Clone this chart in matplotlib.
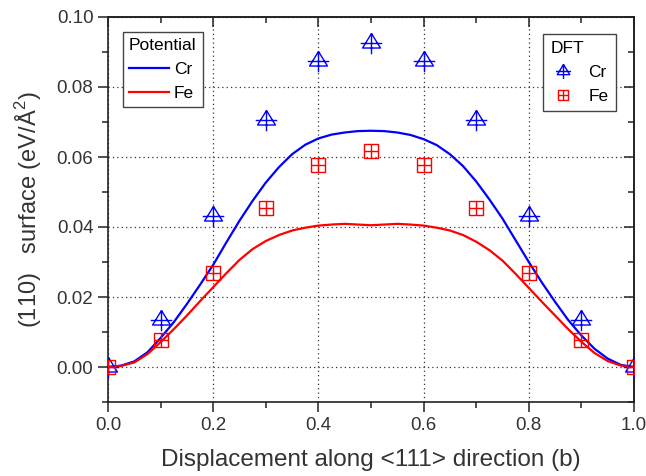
import numpy as np
import matplotlib
matplotlib.use("Agg")
import matplotlib.pyplot as plt
from matplotlib.path import Path
from matplotlib.ticker import MultipleLocator

plt.rcParams["font.family"] = ["Liberation Sans", "DejaVu Sans"]
plt.rcParams["mathtext.fontset"] = "custom"
plt.rcParams["mathtext.rm"] = "Liberation Sans"

# DFT points
dft_x = [0.0, 0.1, 0.2, 0.3, 0.4, 0.5, 0.6, 0.7, 0.8, 0.9, 1.0]
dft_cr = [0.0, 0.0134, 0.0431, 0.0707, 0.0875, 0.0925, 0.0875, 0.0707, 0.0431, 0.0134, 0.0]
dft_fe = [0.0, 0.0078, 0.0270, 0.0455, 0.0577, 0.0617, 0.0577, 0.0455, 0.0270, 0.0078, 0.0]

pot_x = [0.0, 0.025, 0.05, 0.075, 0.1, 0.125, 0.15, 0.175, 0.2, 0.225, 0.25,
         0.275, 0.3, 0.325, 0.35, 0.375, 0.4, 0.425, 0.45, 0.475, 0.5,
         0.525, 0.55, 0.575, 0.6, 0.625, 0.65, 0.675, 0.7, 0.725, 0.75,
         0.775, 0.8, 0.825, 0.85, 0.875, 0.9, 0.925, 0.95, 0.975, 1.0]
pot_cr = [0.0, 0.0004, 0.0016, 0.0042, 0.0083, 0.0128, 0.0180, 0.0235, 0.0292, 0.0356, 0.0418,
          0.0475, 0.0527, 0.0571, 0.0608, 0.0635, 0.0653, 0.0664, 0.0670, 0.0674, 0.0675,
          0.0674, 0.0670, 0.0663, 0.0651, 0.0634, 0.0608, 0.0574, 0.0530, 0.0479, 0.0424,
          0.0362, 0.0300, 0.0241, 0.0186, 0.0134, 0.0090, 0.0052, 0.0024, 0.0006, 0.0]
pot_fe = [0.0, 0.0003, 0.0013, 0.0037, 0.0071, 0.0108, 0.0147, 0.0188, 0.0228, 0.0268, 0.0306,
          0.0337, 0.0360, 0.0377, 0.0390, 0.0398, 0.0404, 0.0407, 0.0409, 0.0407, 0.0405,
          0.0407, 0.0409, 0.0407, 0.0404, 0.0398, 0.0390, 0.0377, 0.0358, 0.0334, 0.0304,
          0.0266, 0.0226, 0.0186, 0.0147, 0.0108, 0.0072, 0.0040, 0.0017, 0.0004, 0.0]

x_ticks = [0.0, 0.2, 0.4, 0.6, 0.8, 1.0]
y_ticks = [0.0, 0.02, 0.04, 0.06, 0.08, 0.10]

# custom markers: triangle with cross, square with plus
M, L = Path.MOVETO, Path.LINETO
tri_cross = Path(
    [(0, 0.93), (-0.83, -0.42), (0.83, -0.42), (0, 0.93),
     (-1, 0), (1, 0), (0, 0.93), (0, -1)],
    [M, L, L, L, M, L, M, L])
sq_plus = Path(
    [(-1, -1), (1, -1), (1, 1), (-1, 1), (-1, -1),
     (-1, 0), (1, 0), (0, -1), (0, 1)],
    [M, L, L, L, L, M, L, M, L])

fig = plt.figure(figsize=(6.46, 4.76), dpi=100)
ax = fig.add_axes([108 / 646, 1 - 402 / 476, 526 / 646, 385 / 476])

l_cr, = ax.plot(pot_x, pot_cr, color="blue", linewidth=1.6, label="Cr", zorder=3)
l_fe, = ax.plot(pot_x, pot_fe, color="red", linewidth=1.6, label="Fe", zorder=3)

p_cr, = ax.plot(dft_x, dft_cr, linestyle="none", marker=tri_cross, markersize=15.5,
                markerfacecolor="none", markeredgecolor="blue", markeredgewidth=1.0,
                label="Cr", zorder=4)
p_fe, = ax.plot(dft_x, dft_fe, linestyle="none", marker=sq_plus, markersize=9.4,
                markerfacecolor="none", markeredgecolor="red", markeredgewidth=1.0,
                label="Fe", zorder=4)

ax.set_xlim(0, 1.0)
ax.set_ylim(-0.01, 0.10)
ax.set_xticks(x_ticks)
ax.set_yticks(y_ticks)
ax.xaxis.set_minor_locator(MultipleLocator(0.1))
ax.yaxis.set_minor_locator(MultipleLocator(0.01))
ax.set_xticklabels([f"{v:.1f}" for v in x_ticks])
ax.set_yticklabels([f"{v:.2f}" for v in y_ticks])

ax.grid(True, which="major", color="#333333", linestyle=(0, (1, 2.5)), linewidth=0.9)

for s in ax.spines.values():
    s.set_linewidth(1.2)
    s.set_color("#222222")

ax.tick_params(which="both", direction="out", width=1.1, colors="#222222",
               labelsize=13.5, labelcolor="#333333")
ax.tick_params(which="major", length=7)
ax.tick_params(which="minor", length=4)

# mirrored ticks on the top and right, pointing inward
ax_top = ax.secondary_xaxis("top")
ax_top.set_xticks(x_ticks)
ax_top.xaxis.set_minor_locator(MultipleLocator(0.1))
ax_top.tick_params(which="both", direction="in", width=1.1, labeltop=False, colors="#222222")
ax_top.tick_params(which="major", length=7)
ax_top.tick_params(which="minor", length=4)
ax_right = ax.secondary_yaxis("right")
ax_right.set_yticks(y_ticks)
ax_right.yaxis.set_minor_locator(MultipleLocator(0.01))
ax_right.tick_params(which="both", direction="in", width=1.1, labelright=False, colors="#222222")
ax_right.tick_params(which="major", length=7)
ax_right.tick_params(which="minor", length=4)
for sa in (ax_top, ax_right):
    for s in sa.spines.values():
        s.set_linewidth(1.2)
        s.set_color("#222222")

ax.set_xlabel("Displacement along <111> direction (b)", fontsize=17.5, color="#333333", labelpad=11)
ax.set_ylabel("(110)   surface (eV/Å$^{2}$)", fontsize=17, color="#333333", labelpad=9)

leg1 = ax.legend(handles=[l_cr, l_fe], title="Potential", loc="upper left",
                 bbox_to_anchor=(0.028, 0.96), fontsize=12.5, title_fontsize=12.5,
                 frameon=True, fancybox=False, framealpha=1, edgecolor="#444444",
                 handlelength=2.3, handletextpad=0.3, borderpad=0.35, labelspacing=0.5,
                 borderaxespad=0)
leg1._legend_box.align = "left"
leg1.get_frame().set_linewidth(1.0)
ax.add_artist(leg1)

leg2 = ax.legend(handles=[p_cr, p_fe], title="DFT", loc="upper right",
                 bbox_to_anchor=(0.965, 0.955), fontsize=12.5, title_fontsize=12.5,
                 frameon=True, fancybox=False, framealpha=1, edgecolor="#444444",
                 markerscale=0.7, handlelength=1.5, handletextpad=0.7, borderpad=0.4,
                 labelspacing=0.5, borderaxespad=0)
leg2._legend_box.align = "left"
leg2.get_frame().set_linewidth(1.0)

fig.savefig("out.png", dpi=100)
